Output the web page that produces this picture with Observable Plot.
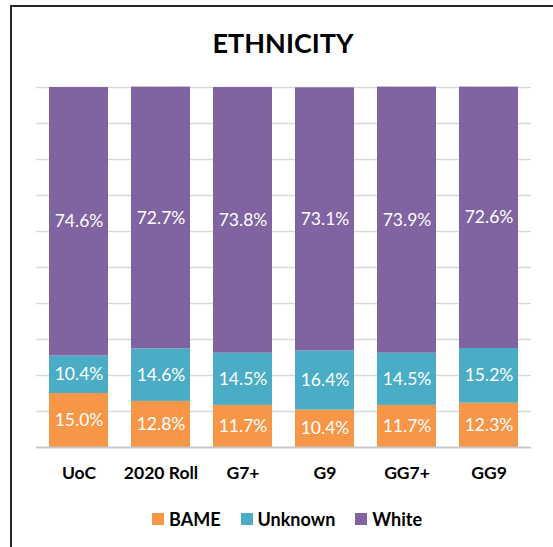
<!DOCTYPE html>
<html>
<head>
<meta charset="utf-8">
<script src="https://cdn.jsdelivr.net/npm/d3@7"></script>
<script src="https://cdn.jsdelivr.net/npm/@observablehq/plot@0.6"></script>
<style>
  html, body { margin: 0; padding: 0; background: #fff; }
  #wrap { position: relative; width: 553px; height: 547px; overflow: hidden; font-family: Lato, "Open Sans", sans-serif; }
  #frame { position: absolute; left: 10px; top: 5px; width: 600px; height: 600px; border-left: 2px solid #262626; border-top: 2px solid #262626; }
  #title { position: absolute; left: 0; width: 566px; top: 26px; text-align: center; font-weight: bold; font-size: 27px; color: #000; line-height: 34px; }
  #chart { position: absolute; left: 0; top: 0; }
  #legend { position: absolute; left: 152px; top: 509px; display: flex; align-items: center; font-weight: bold; font-size: 18px; color: #000; line-height: 20px; }
  #legend .item { display: flex; align-items: center; margin-right: 20px; }
  #legend .sw { width: 12px; height: 12px; margin-right: 5px; }
</style>
</head>
<body>
<div id="wrap">
  <div id="frame"></div>
  <div id="chart"></div>
  <div id="title">ETHNICITY</div>
  <div id="legend"></div>
</div>
<script>
const categories = ["UoC", "2020 Roll", "G7+", "G9", "GG7+", "GG9"];
const seriesNames = ["BAME", "Unknown", "White"];
const seriesColors = ["#F79646", "#4BACC6", "#8064A2"];
const bame = [15.0, 12.8, 11.7, 10.4, 11.7, 12.3];
const unknown = [10.4, 14.6, 14.5, 16.4, 14.5, 15.2];
const white = [74.6, 72.7, 73.8, 73.1, 73.9, 72.6];
const gridTicks = [10, 20, 30, 40, 50, 60, 70, 80, 90, 100];

const seriesValues = [bame, unknown, white];
const data = [];
seriesNames.forEach((s, si) => {
  categories.forEach((c, ci) => {
    data.push({ cat: c, series: s, value: seriesValues[si][ci] });
  });
});

const plot = Plot.plot({
  width: 553,
  height: 500,
  marginTop: 87,
  marginBottom: 53,
  marginLeft: 36,
  marginRight: 22,
  style: { fontFamily: "Lato, 'Open Sans', sans-serif", background: "transparent" },
  x: { domain: categories, paddingInner: 0.285, paddingOuter: 0.1425, label: null },
  y: { domain: [0, 100], axis: null },
  color: { domain: seriesNames, range: seriesColors },
  marks: [
    Plot.ruleY(gridTicks, { stroke: "#d9d9d9", strokeWidth: 1.5 }),
    Plot.barY(data, Plot.stackY({ x: "cat", y: "value", fill: "series", z: "series", order: seriesNames })),
    Plot.ruleY([0], { stroke: "#c8c8c8", strokeWidth: 2 }),
    Plot.text(data, Plot.stackY({
      x: "cat", y: "value", z: "series", order: seriesNames,
      text: d => d.value.toFixed(1) + "%",
      fill: "white", fontSize: 17.5
    })),
    Plot.axisX({ tickSize: 0, tickPadding: 19, fontSize: 17.5, fontWeight: "bold", fill: "#000", label: null })
  ]
});
document.getElementById("chart").appendChild(plot);

const legend = document.getElementById("legend");
seriesNames.forEach((s, i) => {
  const item = document.createElement("div");
  item.className = "item";
  const sw = document.createElement("div");
  sw.className = "sw";
  sw.style.background = seriesColors[i];
  const lab = document.createElement("span");
  lab.textContent = s;
  item.appendChild(sw);
  item.appendChild(lab);
  legend.appendChild(item);
});
</script>
</body>
</html>
